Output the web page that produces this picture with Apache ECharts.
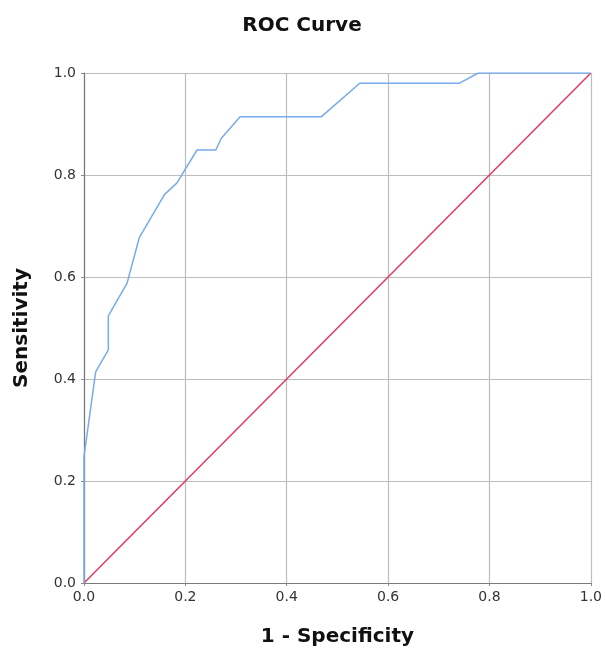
<!DOCTYPE html>
<html>
<head>
<meta charset="utf-8">
<script src="https://cdn.jsdelivr.net/npm/echarts@6/dist/echarts.min.js"></script>
<style>
html,body{margin:0;padding:0;background:#fff;}
#chart{width:605px;height:652px;}
</style>
</head>
<body>
<div id="chart"></div>
<script>
// ROC curve points (1 - Specificity, Sensitivity)
const rocX = [0, 0, 0.023, 0.048, 0.048, 0.085, 0.109, 0.159, 0.183, 0.223, 0.260, 0.271, 0.308, 0.468, 0.544, 0.741, 0.778, 1.0];
const rocY = [0, 0.248, 0.414, 0.457, 0.524, 0.588, 0.677, 0.762, 0.784, 0.849, 0.849, 0.872, 0.914, 0.914, 0.980, 0.980, 1.0, 1.0];
// Reference line
const refX = [0, 1];
const refY = [0, 1];
const tickValues = [0, 0.2, 0.4, 0.6, 0.8, 1.0];

const chart = echarts.init(document.getElementById('chart'));
const font = '"DejaVu Sans", sans-serif';
function axis(name, gap, margin) {
  return {
    type: 'value', min: 0, max: 1, interval: 0.2,
    name: name, nameLocation: 'middle', nameGap: gap,
    nameTextStyle: {fontFamily: font, fontWeight: 'bold', fontSize: 20, color: '#111'},
    axisLine: {show: true, lineStyle: {color: '#7a7a7a', width: 1.2}},
    axisTick: {show: true, length: 3, lineStyle: {color: '#8a8a8a'}},
    axisLabel: {fontFamily: font, fontSize: 14, color: '#333', margin: margin,
      formatter: v => v.toFixed(1)},
    splitLine: {show: true, lineStyle: {color: '#bdbdbd', width: 1.2}}
  };
}
chart.setOption({
  animation: false,
  backgroundColor: '#fff',
  title: {text: 'ROC Curve', left: 297, textAlign: 'center', top: 11,
    textStyle: {fontFamily: font, fontWeight: 'bold', fontSize: 20, color: '#111'}},
  grid: {left: 84, right: 11, top: 73, bottom: 69, containLabel: false},
  xAxis: axis('1 - Specificity', 44, 7),
  yAxis: axis('Sensitivity', 52, 8),
  series: [
    {type: 'line', data: refX.map((x, i) => [x, refY[i]]), symbol: 'none',
      lineStyle: {color: '#e23a5e', width: 1.5}, z: 2},
    {type: 'line', data: rocX.map((x, i) => [x, rocY[i]]), symbol: 'none',
      lineStyle: {color: '#78aaee', width: 1.5}, z: 3}
  ]
});
</script>
</body>
</html>
